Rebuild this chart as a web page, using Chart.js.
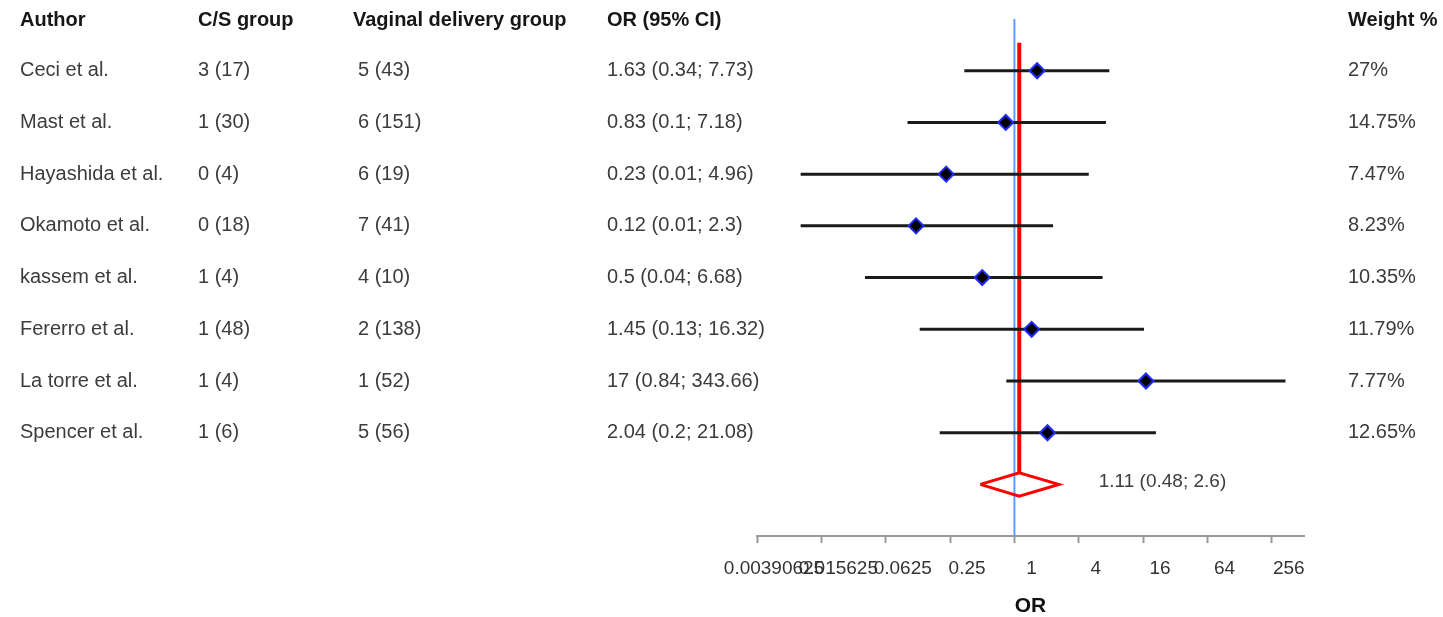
<!DOCTYPE html>
<html>
<head>
<meta charset="utf-8">
<title>Forest plot</title>
<script src="https://cdn.jsdelivr.net/npm/chart.js@4.4.1/dist/chart.umd.min.js"></script>
<style>
body{margin:0;background:#fff}
canvas{display:block}
</style>
</head>
<body>
<canvas id="chart" width="1443" height="617"></canvas>
<script>

// study rows
const authors = ["Ceci et al.", "Mast et al.", "Hayashida et al.", "Okamoto et al.", "kassem et al.", "Fererro et al.", "La torre et al.", "Spencer et al."]
const csGroup = ["3 (17)", "1 (30)", "0 (4)", "0 (18)", "1 (4)", "1 (48)", "1 (4)", "1 (6)"]
const vaginalGroup = ["5 (43)", "6 (151)", "6 (19)", "7 (41)", "4 (10)", "2 (138)", "1 (52)", "5 (56)"]
const oddsRatio = [1.63, 0.83, 0.23, 0.12, 0.5, 1.45, 17, 2.04]
const ciLow = [0.34, 0.1, 0.01, 0.01, 0.04, 0.13, 0.84, 0.2]
const ciHigh = [7.73, 7.18, 4.96, 2.3, 6.68, 16.32, 343.66, 21.08]
const weights = ["27%", "14.75%", "7.47%", "8.23%", "10.35%", "11.79%", "7.77%", "12.65%"]

// pooled estimate
const pooledOR = 1.11
const pooledLow = 0.48
const pooledHigh = 2.6

// x axis
const orTicks = [0.00390625, 0.015625, 0.0625, 0.25, 1, 4, 16, 64, 256]
const headers = ["Author", "C/S group", "Vaginal delivery group", "OR (95% CI)", "Weight %"]

const FONT = '"Liberation Sans", Arial, Helvetica, sans-serif'
const summaryRow = authors.length

let datasets = []

datasets.push({
label: "OR",
data: oddsRatio.map((v, i) => ({x: v, y: i})),
pointStyle: "rectRot",
pointRadius: 7.5,
pointBackgroundColor: "#000",
pointBorderColor: "#1f2cff",
pointBorderWidth: 2,
showLine: false,
order: 0
})

authors.forEach((a, i) => {
datasets.push({
label: a,
data: [{x: ciLow[i], y: i}, {x: ciHigh[i], y: i}],
showLine: true,
borderColor: "#1a1a1a",
borderWidth: 3,
pointRadius: 0,
order: 1
})
})

// pooled diamond
datasets.push({
label: "pooled",
data: [
{x: pooledLow, y: summaryRow},
{x: pooledOR, y: summaryRow - 0.225},
{x: pooledHigh, y: summaryRow},
{x: pooledOR, y: summaryRow + 0.225},
{x: pooledLow, y: summaryRow}
],
showLine: true,
borderColor: "#ff0000",
borderWidth: 3,
fill: false,
pointRadius: 0,
tension: 0,
order: 2
})

// pooled OR line
datasets.push({
label: "pooled line",
data: [{x: pooledOR, y: -0.54}, {x: pooledOR, y: summaryRow - 0.225}],
showLine: true,
borderColor: "#ff0000",
borderWidth: 4,
pointRadius: 0,
order: 3
})

// no-effect line
datasets.push({
label: "OR = 1",
data: [{x: 1, y: -1}, {x: 1, y: summaryRow + 1}],
showLine: true,
borderColor: "#5c9eff",
borderWidth: 2,
pointRadius: 0,
order: 4
})

const tableText = {
id: "tableText",
afterDraw(chart) {
let ctx = chart.ctx
let x = chart.scales.x
let y = chart.scales.y
ctx.save()
ctx.textBaseline = "middle"
ctx.textAlign = "left"

let colX = [20, 198, 353, 607, 1348]
ctx.fillStyle = "#161616"
ctx.font = "bold 20px " + FONT
headers.forEach((h, k) => ctx.fillText(h, colX[k], y.getPixelForValue(-1) + 1))

ctx.fillStyle = "#3c3c3c"
ctx.font = "20px " + FONT
authors.forEach((a, i) => {
let py = y.getPixelForValue(i)
ctx.fillText(a, 20, py)
ctx.fillText(csGroup[i], 198, py)
ctx.fillText(vaginalGroup[i], 358, py)
ctx.fillText(oddsRatio[i] + " (" + ciLow[i] + "; " + ciHigh[i] + ")", 607, py)
ctx.fillText(weights[i], 1348, py)
})

ctx.font = "19px " + FONT
ctx.fillText(pooledOR + " (" + pooledLow + "; " + pooledHigh + ")",
x.getPixelForValue(pooledHigh) + 40, y.getPixelForValue(summaryRow) - 3)
ctx.restore()
}
}

let ctx = document.getElementById("chart").getContext("2d")

new Chart(ctx, {
type: "scatter",
data: {datasets: datasets},
plugins: [tableText],
options: {
responsive: false,
animation: false,
layout: {padding: {left: 757, right: 139, top: 19, bottom: 0}},
plugins: {
legend: {display: false},
tooltip: {enabled: false}
},
scales: {
x: {
type: "logarithmic",
min: 1 / 256,
max: 512,
afterBuildTicks: (scale) => {
scale.ticks = orTicks.map(v => ({value: v}))
},
ticks: {
autoSkip: false,
maxRotation: 0,
minRotation: 0,
padding: 15,
labelOffset: 17,
color: "#333",
font: {family: FONT, size: 19, lineHeight: 1.15},
callback: (v) => String(v)
},
grid: {
drawOnChartArea: false,
drawTicks: true,
tickLength: 7,
tickColor: "#9a9a9a",
tickWidth: 2
},
border: {display: true, color: "#9a9a9a", width: 2},
title: {
display: true,
text: "OR",
color: "#111",
font: {family: FONT, size: 21, weight: "bold", lineHeight: 1},
padding: {top: 1, bottom: 0}
}
},
y: {
type: "linear",
min: -1,
max: summaryRow + 1,
reverse: true,
display: false
}
}
}
})

</script>
</body>
</html>
